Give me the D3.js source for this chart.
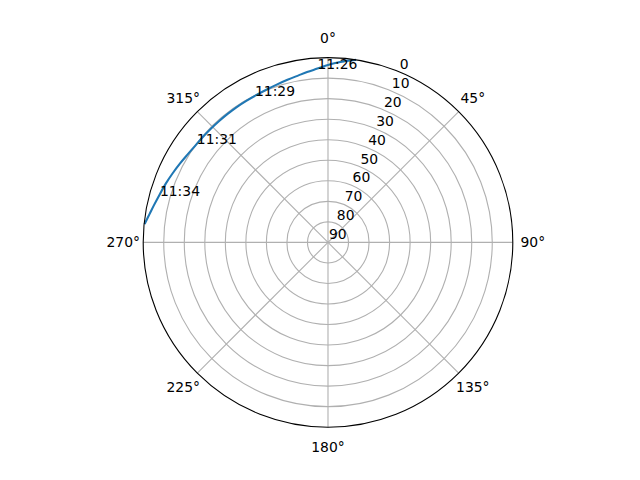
<!DOCTYPE html>
<html>
<head>
<meta charset="utf-8">
<script src="https://cdn.jsdelivr.net/npm/d3@7"></script>
<style>
  html, body { margin: 0; padding: 0; background: #fff; }
  text { font-family: "DejaVu Sans", sans-serif; font-size: 13.9px; fill: #000; }
</style>
</head>
<body>
<svg id="chart" width="640" height="480"></svg>
<script>
// ---- data ----
const thetaTicks = [0, 45, 90, 135, 180, 225, 270, 315];
const thetaTickLabels = ["0°", "45°", "90°", "135°", "180°", "225°", "270°", "315°"];
const elevationTicks = [0, 10, 20, 30, 40, 50, 60, 70, 80, 90];
const elevationTickLabels = ["0", "10", "20", "30", "40", "50", "60", "70", "80", "90"];

// satellite pass track: azimuth (deg, clockwise from north) and elevation (deg)
const trackAzimuth = [8.4, 5, 2, 0, 356.5, 353, 350, 346, 342, 338, 334, 330, 326, 322, 318, 314, 310, 306, 302, 298, 294, 290, 286, 282, 279, 276];
const trackElevation = [0.2, 1.5, 2.7, 3.6, 5.2, 6.4, 7.4, 8.4, 9.2, 9.8, 10.2, 10.4, 10.5, 10.6, 10.6, 10.5, 10.3, 10.0, 9.3, 8.3, 7.2, 6.0, 4.8, 3.3, 2.0, 0.4];

// time labels along the track
const labelTimes = ["11:26", "11:29", "11:31", "11:34"];
const labelAzimuth = [356.5, 333.5, 306.8, 285.4];
const labelElevation = [5.2, 10.3, 10.2, 5.1];

// ---- layout ----
const cx = 328, cy = 242.4, R = 184.8;
const svg = d3.select("#chart");
const g = svg.append("g").attr("transform", `translate(${cx},${cy})`);

const rScale = d3.scaleLinear().domain([0, 90]).range([R, 0]);
const aScale = d3.scaleLinear().domain([0, 360]).range([0, 2 * Math.PI]);
const px = (az, el) => rScale(el) * Math.sin(aScale(az));
const py = (az, el) => -rScale(el) * Math.cos(aScale(az));

// radial grid circles
g.selectAll("circle.grid")
  .data(elevationTicks.filter(e => e > 0 && e < 90))
  .enter().append("circle")
  .attr("r", d => rScale(d))
  .attr("fill", "none")
  .attr("stroke", "#b0b0b0")
  .attr("stroke-width", 1.1);

// angular spokes
g.selectAll("line.spoke")
  .data(thetaTicks)
  .enter().append("line")
  .attr("x1", 0).attr("y1", 0)
  .attr("x2", d => px(d, 0))
  .attr("y2", d => py(d, 0))
  .attr("stroke", "#b0b0b0")
  .attr("stroke-width", 1.1);

// track
const line = d3.lineRadial()
  .angle(d => aScale(d[0]))
  .radius(d => rScale(d[1]))
  .curve(d3.curveCatmullRom);
const trackData = trackAzimuth.map((a, i) => [a, trackElevation[i]]);
g.append("path")
  .datum(trackData)
  .attr("d", line)
  .attr("fill", "none")
  .attr("stroke", "#1f77b4")
  .attr("stroke-width", 2.1)
  .attr("stroke-linecap", "square");

// outer spine
g.append("circle")
  .attr("r", rScale(0))
  .attr("fill", "none")
  .attr("stroke", "#000")
  .attr("stroke-width", 1.1);

// theta tick labels
g.selectAll("text.theta")
  .data(thetaTicks)
  .enter().append("text")
  .attr("x", d => (R + 20) * Math.sin(aScale(d)))
  .attr("y", d => -(R + 20) * Math.cos(aScale(d)))
  .attr("text-anchor", "middle")
  .attr("dominant-baseline", "central")
  .text((d, i) => thetaTickLabels[i]);

// radial tick labels at 22.5°
g.selectAll("text.rlabel")
  .data(elevationTicks)
  .enter().append("text")
  .attr("x", d => px(22.5, d) + 1)
  .attr("y", d => py(22.5, d) - 3)
  .attr("text-anchor", "start")
  .text((d, i) => elevationTickLabels[i]);

// time labels
g.selectAll("text.time")
  .data(labelTimes)
  .enter().append("text")
  .attr("x", (d, i) => px(labelAzimuth[i], labelElevation[i]))
  .attr("y", (d, i) => py(labelAzimuth[i], labelElevation[i]))
  .attr("text-anchor", "start")
  .text(d => d);
</script>
</body>
</html>
